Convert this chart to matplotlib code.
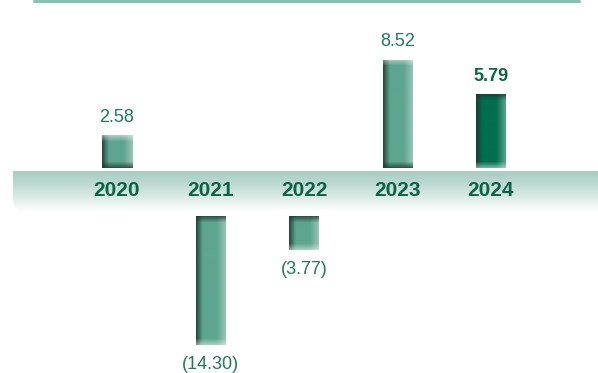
import numpy as np
import matplotlib
matplotlib.use('Agg')
import matplotlib.pyplot as plt
from matplotlib.colors import to_rgb
from matplotlib.patches import FancyBboxPatch
from matplotlib.lines import Line2D
import matplotlib.transforms as mtransforms

plt.rcParams['font.family'] = ['Liberation Sans', 'DejaVu Sans']

years  = ['2020', '2021', '2022', '2023', '2024']
values = [2.58, -14.30, -3.77, 8.52, 5.79]
labels = ['2.58', '(14.30)', '(3.77)', '8.52', '5.79']
HIGHLIGHT = 4

W, H = 598, 373
BAR_GREEN  = '#5da58e'
HIGH_GREEN = '#006f4e'
DARK       = '#1c3a30'
TEXT_GREEN = '#1f7a5c'
YEAR_GREEN = '#0a6446'

fig = plt.figure(figsize=(W / 100, H / 100), dpi=100)

# x mapping: category 0 -> 117 px, 93.5 px per category
px_per_cat = 93.5
x0 = 117
xlim = (-x0 / px_per_cat, (W - x0) / px_per_cat)

# horizontal band (drawn first so the bars and labels sit on top)
BAND_L, BAND_T, BAND_B = 13, 171, 212
band = fig.add_axes([BAND_L / W, (H - BAND_B) / H, (W - BAND_L) / W, (BAND_B - BAND_T) / H])
bw_px, bh_px = W - BAND_L, BAND_B - BAND_T
band.set_xlim(0, bw_px); band.set_ylim(0, bh_px); band.axis('off')
top_c = np.array(to_rgb('#a9cec3'))
g = np.linspace(0, 1, 64) ** 1.2
grad = top_c[None, :] * (1 - g[:, None]) + np.ones(3)[None, :] * g[:, None]
grad = np.repeat(grad[:, None, :], 4, axis=1)
bim = band.imshow(grad, extent=(0, bw_px, 0, bh_px), aspect='auto', origin='upper')
clip = FancyBboxPatch((0, 0), bw_px + 40, bh_px + 20, boxstyle='round,pad=0,rounding_size=14',
                      facecolor='none', edgecolor='none')
band.add_patch(clip)
bim.set_clip_path(clip)

# upper axes for gains, lower axes for losses
ax_top = fig.add_axes([0, (H - 168) / H, 1, 168 / H])
ax_bot = fig.add_axes([0, 0, 1, (H - 216) / H])
ax_top.set_xlim(*xlim); ax_top.set_ylim(0, 168 / 12.7)
ax_bot.set_xlim(*xlim); ax_bot.set_ylim(-157 / 9.0, 0)
for a in (ax_top, ax_bot):
    a.axis('off')
    a.patch.set_alpha(0)


def shade(h, w, base, dark_top):
    base = np.array(to_rgb(base)); dark = np.array(to_rgb(DARK)); white = np.ones(3)
    img = np.tile(base, (h, w, 1))
    t = np.linspace(0, 1, w)
    left = np.clip(1 - t / 0.22, 0, 1) * 0.85
    right = np.clip((t - 0.7) / 0.3, 0, 1) * 0.35
    img = img * (1 - left[None, :, None]) + dark * left[None, :, None]
    img = img * (1 - right[None, :, None]) + white * right[None, :, None]
    r = np.arange(h)
    d_top = np.clip(1 - r / 6.0, 0, 1)
    d_bot = np.clip(1 - (h - 1 - r) / 6.0, 0, 1)
    if dark_top:
        dk, lt = d_top * 0.75, d_bot * 0.45
    else:
        dk, lt = d_bot * 0.75, d_top * 0.45
    img = img * (1 - dk[:, None, None]) + dark * dk[:, None, None]
    img = img * (1 - lt[:, None, None]) + white * lt[:, None, None]
    return np.clip(img, 0, 1)


bw = 30 / px_per_cat
for i, (v, lab) in enumerate(zip(values, labels)):
    ax = ax_top if v > 0 else ax_bot
    hi = i == HIGHLIGHT
    base = HIGH_GREEN if hi else BAR_GREEN
    bar = ax.bar(i, v, width=bw, color='none', linewidth=0)[0]
    p0 = ax.transData.transform((i, 0)); p1 = ax.transData.transform((i, v))
    hpx = max(int(abs(p1[1] - p0[1])), 2)
    img = shade(hpx, 30, base, dark_top=(v < 0) or hi)
    ymin, ymax = (0, v) if v > 0 else (v, 0)
    im = ax.imshow(img, extent=(i - bw / 2, i + bw / 2, ymin, ymax),
                   aspect='auto', origin='upper', zorder=2)
    im.set_clip_path(bar)
    if v > 0:
        ax.annotate(lab, (i, v), xytext=(0, 7), textcoords='offset points',
                    ha='center', va='bottom', fontsize=13,
                    color=YEAR_GREEN if hi else TEXT_GREEN,
                    fontweight='bold' if hi else 'normal')
    else:
        ax.annotate(lab, (i, v), xytext=(0, -8), textcoords='offset points',
                    ha='center', va='top', fontsize=13, color=TEXT_GREEN)

# year labels across the band
trans = mtransforms.blended_transform_factory(ax_top.transData, fig.transFigure)
for i, y in enumerate(years):
    ax_top.text(i, (H - 190) / H, y, transform=trans, ha='center', va='center',
                fontsize=15, fontweight='bold', color=YEAR_GREEN, clip_on=False, zorder=5)

# thin rule along the top edge
fig.add_artist(Line2D([34 / W, 579 / W], [1 - 0.6 / H] * 2, lw=2.2,
                      color='#86c2af', solid_capstyle='round'))

fig.savefig('out.png', dpi=100, facecolor='white')
